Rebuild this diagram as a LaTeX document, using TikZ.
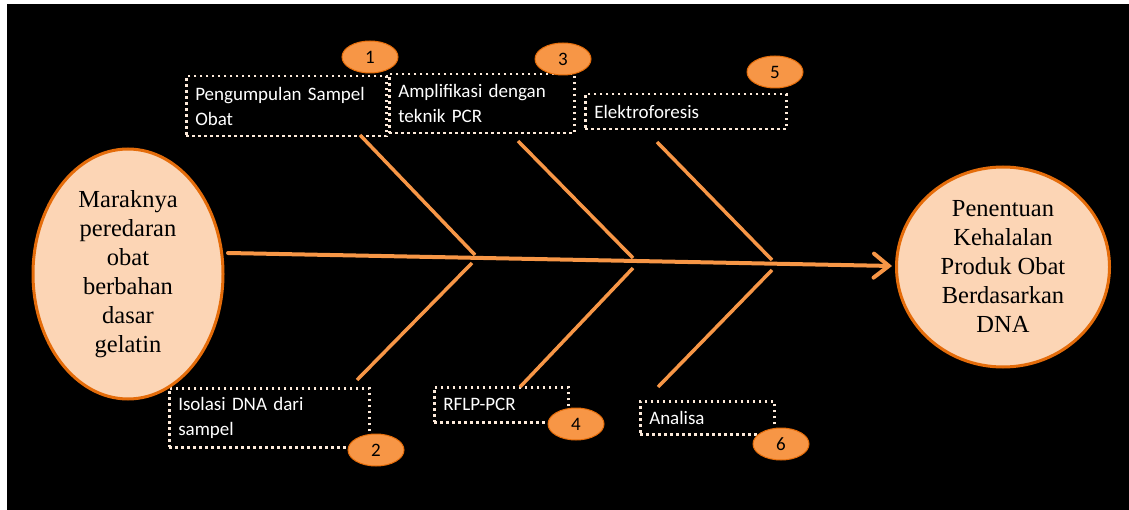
\documentclass[tikz,border=0pt]{standalone}
\usepackage{fontspec}
\setmainfont{Liberation Serif}
\newfontfamily\boxfont{Carlito}
\usetikzlibrary{shapes.geometric,arrows.meta}
\definecolor{orangeline}{HTML}{F79646}
\definecolor{peach}{HTML}{FCD5B5}
\definecolor{darkorange}{HTML}{E46C0A}
\definecolor{dotcol}{HTML}{FDEADA}
\tikzset{
  bigell/.style={ellipse, fill=peach, draw=darkorange, line width=3pt, inner sep=0pt, align=center, text=black,
    font=\fontsize{24.5}{29}\selectfont},
  stepbox/.style={rectangle, draw=dotcol, line width=2.5pt, dash pattern=on 2.5pt off 3.5pt, text=white,
    align=left, inner xsep=9pt, inner ysep=0pt, anchor=north west, font=\boxfont\fontsize{19}{25}\selectfont},
  numell/.style={ellipse, fill=orangeline, draw=darkorange, line width=1pt, minimum width=56pt, minimum height=32pt,
    inner sep=0pt, text=black, font=\boxfont\fontsize{19}{23}\selectfont},
  spine/.style={draw=orangeline, line width=4pt, line cap=round},
  bone/.style={draw=orangeline, line width=3.5pt}
}
\begin{document}
\begin{tikzpicture}[x=1pt,y=-1pt]
\useasboundingbox (0,0) rectangle (1129,510);
\fill[white] (0,0) rectangle (1129,510);
\fill[black] (7,4) rectangle (1129,510);

% boxes
\node[stepbox, text width=182pt, minimum height=60pt] (b1) at (185,75) {Pengumpulan Sampel\\Obat};
\node[stepbox, text width=167pt, minimum height=59pt] (b3) at (388,73) {Amplifikasi dengan\\teknik PCR};
\node[stepbox, text width=183pt, minimum height=35pt] (b5) at (584,93) {Elektroforesis};
\node[stepbox, text width=182pt, minimum height=59pt] (b2) at (168,387) {Isolasi DNA dari\\sampel};
\node[stepbox, text width=116pt, minimum height=35pt] (b4) at (433,386) {RFLP-PCR};
\node[stepbox, text width=116pt, minimum height=33pt] (b6) at (639,400) {Analisa};

% number ellipses
\node[numell] (n1) at (370,57) {1};
\node[numell] (n3) at (563,59) {3};
\node[numell] (n5) at (775,72) {5};
\node[numell] (n2) at (376,450) {2};
\node[numell] (n4) at (576,424) {4};
\node[numell] (n6) at (781,444) {6};

% big ellipses
\node[bigell, minimum width=190pt, minimum height=250pt] (L) at (128,274) {Maraknya\\peredaran\\obat\\berbahan\\dasar\\gelatin};
\node[bigell, minimum width=213pt, minimum height=200pt] (R) at (1003,267) {Penentuan\\Kehalalan\\Produk Obat\\Berdasarkan\\DNA};

% coordinates
\coordinate (s0) at (228,253);
\coordinate (s1) at (892,266);
\coordinate (t1a) at (360,135); \coordinate (t1b) at (475,255);
\coordinate (t2a) at (518,141); \coordinate (t2b) at (633,258);
\coordinate (t3a) at (657,142); \coordinate (t3b) at (772,260);
\coordinate (u1a) at (472,263); \coordinate (u1b) at (357,380);
\coordinate (u2a) at (633,268); \coordinate (u2b) at (520,387);
\coordinate (u3a) at (772,270); \coordinate (u3b) at (658,387);

% bones
\draw[bone] (t1a) -- (t1b);
\draw[bone] (t2a) -- (t2b);
\draw[bone] (t3a) -- (t3b);
\draw[bone] (u1a) -- (u1b);
\draw[bone] (u2a) -- (u2b);
\draw[bone] (u3a) -- (u3b);
\draw[spine, -{Straight Barb[length=15pt,width=24pt,line cap=round]}] (s0) -- (s1);
\end{tikzpicture}
\end{document}
